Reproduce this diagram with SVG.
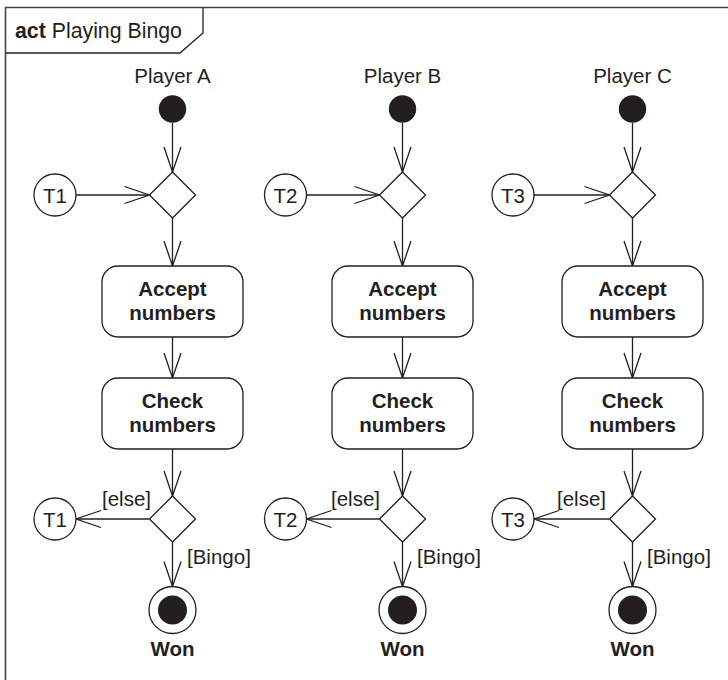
<svg xmlns="http://www.w3.org/2000/svg" width="728" height="680" viewBox="0 0 728 680">
<style>
text{font-family:"Liberation Sans",Arial,Helvetica,sans-serif;font-size:20.5px;fill:#231f20}
.b{font-weight:bold}
.m{text-anchor:middle}
.w{fill:#fff;stroke:#231f20;stroke-width:1.3}
.f{fill:#231f20;stroke:none}
.c{fill:none;stroke:#231f20;stroke-width:1.3;marker-end:url(#v)}
</style>
<defs>
<marker id="v" markerUnits="userSpaceOnUse" viewBox="-28 -10 30 20" markerWidth="30" markerHeight="20" refX="0" refY="0" orient="auto" overflow="visible">
<path d="M-25,-8.5 L0,0 L-25,8.5" fill="none" stroke="#231f20" stroke-width="1.3"/>
</marker>
</defs>
<g id="frame">
<path d="M5.5,680 V7.5 H728" fill="none" stroke="#444" stroke-width="1.6"/>
<path d="M5.5,53 H180 L203,33 V7.5" fill="none" stroke="#231f20" stroke-width="1.3"/>
<text x="15" y="38" style="font-size:21.3px"><tspan class="b">act</tspan> Playing Bingo</text>
</g>
<g id="connectors">
<path class="c" d="M172.5,123 V172"/>
<path class="c" d="M76,195 H149.5"/>
<path class="c" d="M172.5,218 V266"/>
<path class="c" d="M172.5,337 V378"/>
<path class="c" d="M172.5,449 V496"/>
<path class="c" d="M149.5,519 H76"/>
<path class="c" d="M172.5,542 V586.5"/>
<path class="c" d="M402.5,123 V172"/>
<path class="c" d="M306.5,195 H379.5"/>
<path class="c" d="M402.5,218 V266"/>
<path class="c" d="M402.5,337 V378"/>
<path class="c" d="M402.5,449 V496"/>
<path class="c" d="M379.5,519 H306.5"/>
<path class="c" d="M402.5,542 V586.5"/>
<path class="c" d="M632.5,123 V172"/>
<path class="c" d="M534,195 H609.5"/>
<path class="c" d="M632.5,218 V266"/>
<path class="c" d="M632.5,337 V378"/>
<path class="c" d="M632.5,449 V496"/>
<path class="c" d="M609.5,519 H534"/>
<path class="c" d="M632.5,542 V586.5"/>
</g>
<g id="labels">
<text x="172.5" y="83" class="m">Player A</text>
<text x="402.5" y="83" class="m">Player B</text>
<text x="632.5" y="83" class="m">Player C</text>
<text x="102" y="506">[else]</text>
<text x="331" y="506">[else]</text>
<text x="557" y="506">[else]</text>
<text x="187" y="564">[Bingo]</text>
<text x="417" y="564">[Bingo]</text>
<text x="647" y="564">[Bingo]</text>
</g>
<g id="startA"><circle class="f" cx="172.5" cy="109" r="13.7"/></g>
<g id="startB"><circle class="f" cx="402.5" cy="109" r="13.7"/></g>
<g id="startC"><circle class="f" cx="632.5" cy="109" r="13.7"/></g>
<g id="mergeA"><path class="w" d="M172.5,172 L195.5,195 L172.5,218 L149.5,195 Z"/></g>
<g id="mergeB"><path class="w" d="M402.5,172 L425.5,195 L402.5,218 L379.5,195 Z"/></g>
<g id="mergeC"><path class="w" d="M632.5,172 L655.5,195 L632.5,218 L609.5,195 Z"/></g>
<g id="t1in"><circle class="w" cx="55" cy="195" r="21"/><text x="55" y="202.5" class="m">T1</text></g>
<g id="t2in"><circle class="w" cx="285.5" cy="195" r="21"/><text x="285.5" y="202.5" class="m">T2</text></g>
<g id="t3in"><circle class="w" cx="513" cy="195" r="21" stroke-width="1.8"/><text x="513" y="202.5" class="m">T3</text></g>
<g id="acceptA"><rect class="w" x="102" y="266" width="141" height="71" rx="16"/><text x="172.5" y="296" class="m b">Accept</text><text x="172.5" y="320" class="m b">numbers</text></g>
<g id="acceptB"><rect class="w" x="332" y="266" width="141" height="71" rx="16"/><text x="402.5" y="296" class="m b">Accept</text><text x="402.5" y="320" class="m b">numbers</text></g>
<g id="acceptC"><rect class="w" x="562" y="266" width="141" height="71" rx="16"/><text x="632.5" y="296" class="m b">Accept</text><text x="632.5" y="320" class="m b">numbers</text></g>
<g id="checkA"><rect class="w" x="102" y="378" width="141" height="71" rx="16"/><text x="172.5" y="408" class="m b">Check</text><text x="172.5" y="432" class="m b">numbers</text></g>
<g id="checkB"><rect class="w" x="332" y="378" width="141" height="71" rx="16"/><text x="402.5" y="408" class="m b">Check</text><text x="402.5" y="432" class="m b">numbers</text></g>
<g id="checkC"><rect class="w" x="562" y="378" width="141" height="71" rx="16"/><text x="632.5" y="408" class="m b">Check</text><text x="632.5" y="432" class="m b">numbers</text></g>
<g id="decideA"><path class="w" d="M172.5,496 L195.5,519 L172.5,542 L149.5,519 Z"/></g>
<g id="decideB"><path class="w" d="M402.5,496 L425.5,519 L402.5,542 L379.5,519 Z"/></g>
<g id="decideC"><path class="w" d="M632.5,496 L655.5,519 L632.5,542 L609.5,519 Z"/></g>
<g id="t1out"><circle class="w" cx="55" cy="519" r="21"/><text x="55" y="526.5" class="m">T1</text></g>
<g id="t2out"><circle class="w" cx="285.5" cy="519" r="21"/><text x="285.5" y="526.5" class="m">T2</text></g>
<g id="t3out"><circle class="w" cx="513" cy="519" r="21"/><text x="513" y="526.5" class="m">T3</text></g>
<g id="wonA"><circle class="w" cx="172.5" cy="610" r="23.5"/><circle class="f" cx="172.5" cy="610" r="14.5"/><text x="172.5" y="656" class="m b">Won</text></g>
<g id="wonB"><circle class="w" cx="402.5" cy="610" r="23.5"/><circle class="f" cx="402.5" cy="610" r="14.5"/><text x="402.5" y="656" class="m b">Won</text></g>
<g id="wonC"><circle class="w" cx="632.5" cy="610" r="23.5"/><circle class="f" cx="632.5" cy="610" r="14.5"/><text x="632.5" y="656" class="m b">Won</text></g>
</svg>
